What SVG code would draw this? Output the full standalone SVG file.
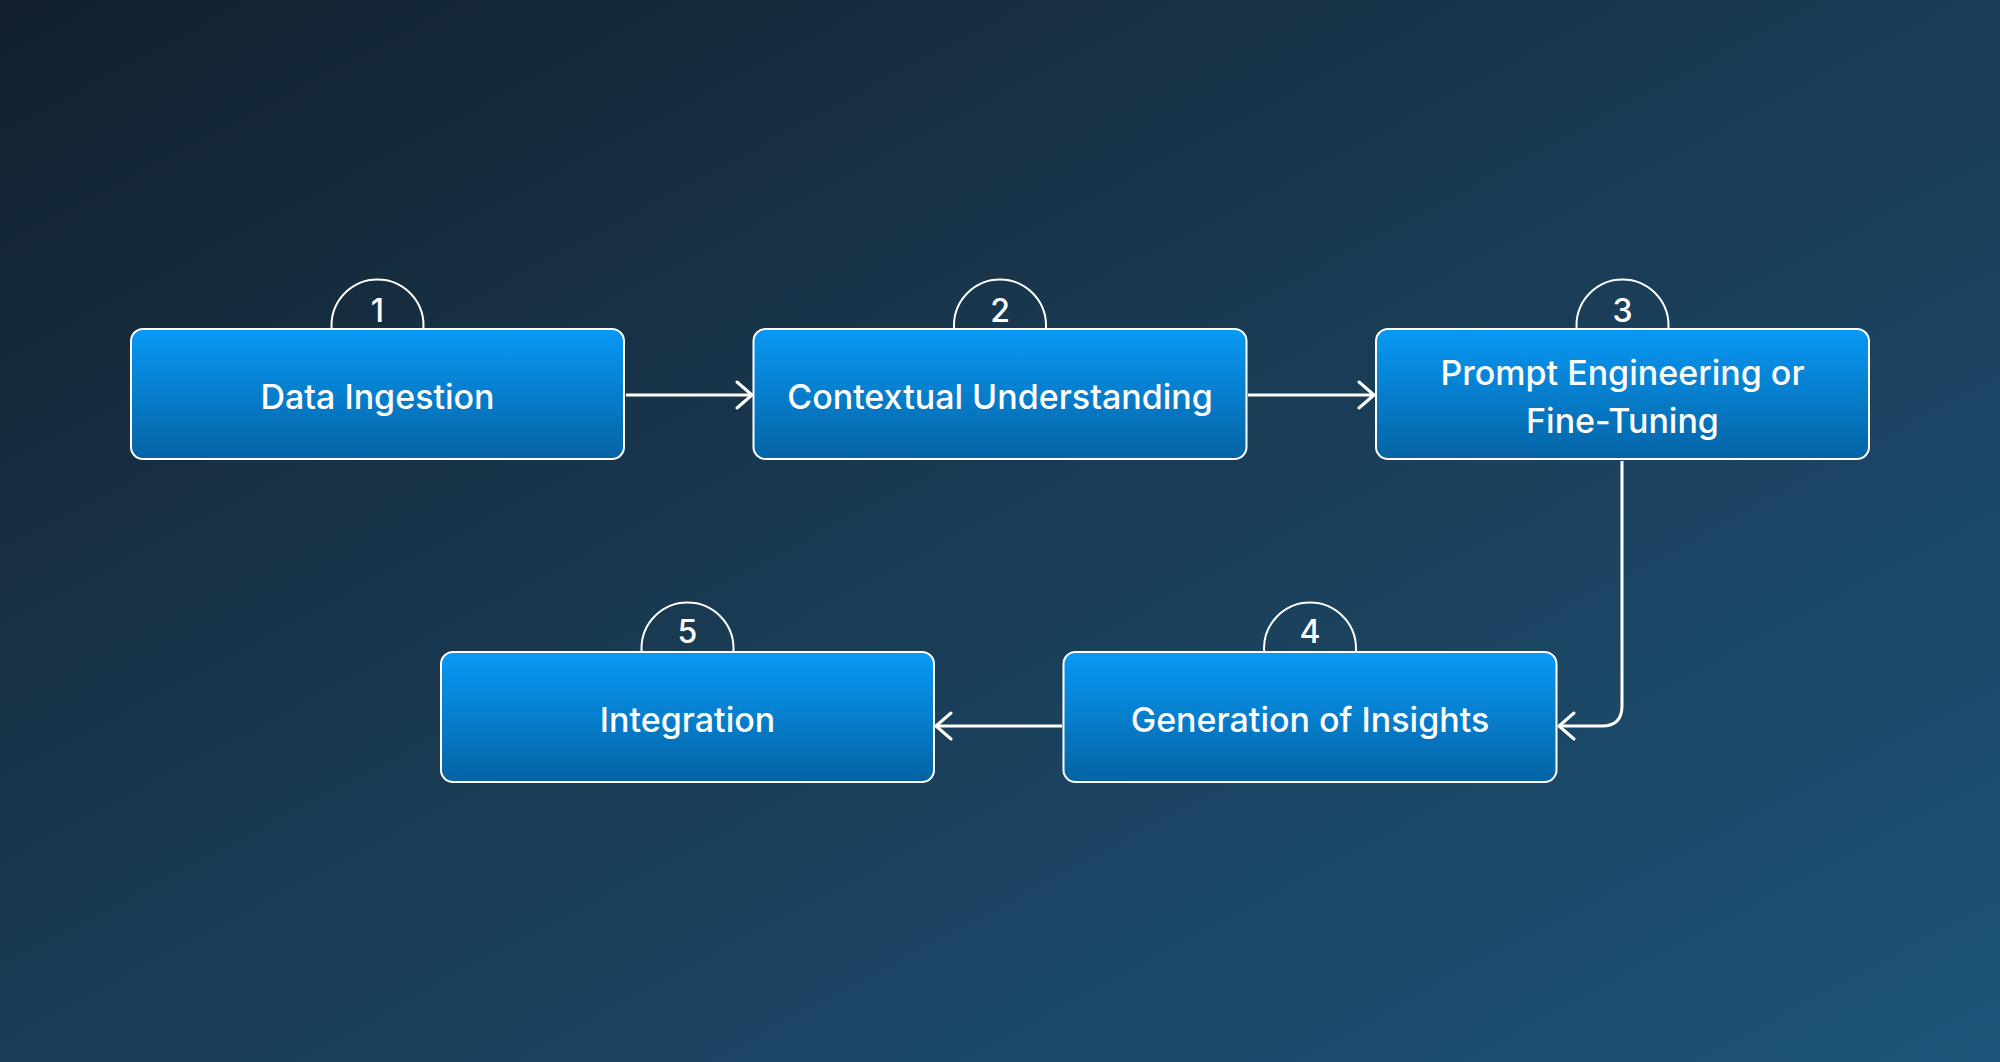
<svg xmlns="http://www.w3.org/2000/svg" width="2000" height="1062" viewBox="0 0 2000 1062">
<defs>
<linearGradient id="bg" x1="0" y1="0" x2="1" y2="1">
<stop offset="0" stop-color="#12202d"/>
<stop offset="0.5" stop-color="#1a3c55"/>
<stop offset="1" stop-color="#1c5479"/>
</linearGradient>
<linearGradient id="box" x1="0" y1="0" x2="0" y2="1">
<stop offset="0" stop-color="#0899f5"/>
<stop offset="1" stop-color="#0563a4"/>
</linearGradient>
<marker id="arr" viewBox="0 0 20 30" refX="17" refY="15" markerWidth="20" markerHeight="30" markerUnits="userSpaceOnUse" orient="auto">
<path d="M2,2 L17,15 L2,28" fill="none" stroke="#ffffff" stroke-width="3" stroke-linecap="round" stroke-linejoin="round"/>
</marker>
<style>
.box{fill:url(#box);stroke:#ffffff;stroke-width:2}
.badge{fill:none;stroke:#ffffff;stroke-width:2}
.lbl{font-family:Inter,"Liberation Sans",sans-serif;font-weight:500;font-size:34px;fill:#ffffff;text-anchor:middle}
.num{font-family:Inter,"Liberation Sans",sans-serif;font-weight:500;font-size:32px;fill:#ffffff;text-anchor:middle}
.con{fill:none;stroke:#ffffff;stroke-width:3;marker-end:url(#arr)}
</style>
</defs>
<rect width="2000" height="1062" fill="url(#bg)"/>
<g id="connectors">
<path class="con" d="M626,395 L752,395"/>
<path class="con" d="M1248,395 L1374,395"/>
<path class="con" d="M1622,461 L1622,706 Q1622,726 1602,726 L1559,726"/>
<path class="con" d="M1062,726 L936,726"/>
</g>
<g id="node1">
<circle class="badge" cx="377.5" cy="325.5" r="46"/>
<rect class="box" x="131" y="329" width="493" height="130" rx="12"/>
<text class="num" x="377.5" y="322">1</text>
<text class="lbl" x="377.5" y="409">Data Ingestion</text>
</g>
<g id="node2">
<circle class="badge" cx="1000" cy="325.5" r="46"/>
<rect class="box" x="753.5" y="329" width="493" height="130" rx="12"/>
<text class="num" x="1000" y="322">2</text>
<text class="lbl" x="1000" y="409">Contextual Understanding</text>
</g>
<g id="node3">
<circle class="badge" cx="1622.5" cy="325.5" r="46"/>
<rect class="box" x="1376" y="329" width="493" height="130" rx="12"/>
<text class="num" x="1622.5" y="322">3</text>
<text class="lbl" x="1622.5" y="385">Prompt Engineering or</text>
<text class="lbl" x="1622.5" y="433">Fine-Tuning</text>
</g>
<g id="node4">
<circle class="badge" cx="1310" cy="648.5" r="46"/>
<rect class="box" x="1063.5" y="652" width="493" height="130" rx="12"/>
<text class="num" x="1310" y="643">4</text>
<text class="lbl" x="1310" y="732">Generation of Insights</text>
</g>
<g id="node5">
<circle class="badge" cx="687.5" cy="648.5" r="46"/>
<rect class="box" x="441" y="652" width="493" height="130" rx="12"/>
<text class="num" x="687.5" y="643">5</text>
<text class="lbl" x="687.5" y="732">Integration</text>
</g>
</svg>
